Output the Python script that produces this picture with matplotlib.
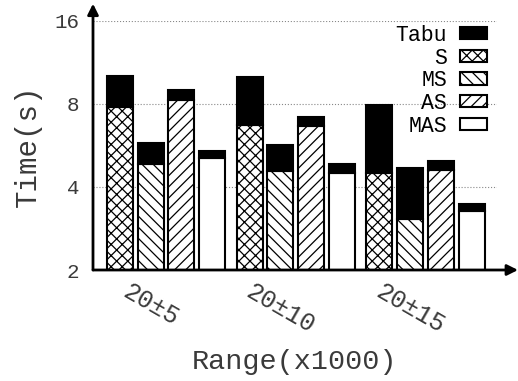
import numpy as np
import matplotlib
matplotlib.use("Agg")
import matplotlib.pyplot as plt

plt.rcParams['font.family'] = ['Liberation Mono', 'DejaVu Sans Mono']
plt.rcParams['hatch.linewidth'] = 0.9

# data (seconds, log2 axis)
groups = ["20±5", "20±10", "20±15"]
methods = ["S", "MS", "AS", "MAS"]
hatches = ["xxx", "\\\\\\", "///", ""]
# time of each method alone
base_S = [7.76, 6.69, 4.49]
base_MS = [4.84, 4.56, 3.05]
base_AS = [8.29, 6.65, 4.60]
base_MAS = [5.08, 4.49, 3.28]
# total time including Tabu
total_S = [10.07, 9.98, 7.89]
total_MS = [5.78, 5.65, 4.69]
total_AS = [8.98, 7.19, 4.97]
total_MAS = [5.40, 4.85, 3.47]

bases = [base_S, base_MS, base_AS, base_MAS]
totals = [total_S, total_MS, total_AS, total_MAS]

txt = '#3a3a3a'

fig = plt.figure(figsize=(5.18, 3.81), dpi=100)
ax = fig.add_axes([93/518, 1-270/381, 404/518, 249.3/381])

width = 0.84
gstep = 4.2
for j in range(4):
    x = np.arange(3)*gstep + j
    b = np.array(bases[j])
    t = np.array(totals[j])
    ax.bar(x, b, width=width, color='white', edgecolor='black',
           hatch=hatches[j], linewidth=1.5, zorder=3, label=methods[j])
    ax.bar(x, t - b, bottom=b, width=width, color='black', edgecolor='black',
           linewidth=1.5, zorder=3, label='Tabu' if j == 0 else None)

ax.set_yscale('log', base=2)
ax.set_ylim(2, 16)
ax.set_xlim(-0.86, 12.2)
ax.set_yticks([2, 4, 8, 16])
ax.set_yticklabels(['2', '4', '8', '16'])
ax.minorticks_off()
ax.yaxis.grid(True, linestyle=':', color='#888888', linewidth=0.8, zorder=0)
ax.tick_params(length=0, labelsize=15, colors=txt, pad=10)

ax.set_xticks(np.arange(3)*gstep + 1.0)
ax.set_xticklabels(groups, rotation=-30, ha='center', fontsize=18)
ax.tick_params(axis='x', pad=7)

for s in ax.spines.values():
    s.set_visible(False)
ax.annotate('', xy=(1 + 21/404, 0), xytext=(0, 0), xycoords='axes fraction',
            arrowprops=dict(arrowstyle='-|>', lw=2, color='black', mutation_scale=16,
                            shrinkA=0, shrinkB=0), annotation_clip=False)
ax.annotate('', xy=(0, 1 + 17/249.3), xytext=(0, 0), xycoords='axes fraction',
            arrowprops=dict(arrowstyle='-|>', lw=2, color='black', mutation_scale=16,
                            shrinkA=0, shrinkB=0), annotation_clip=False)

ax.set_ylabel('Time(s)', fontsize=21, color=txt, labelpad=9)
ax.set_xlabel('Range(x1000)', fontsize=20.5, color=txt, labelpad=8)

h, l = ax.get_legend_handles_labels()
order = [l.index(k) for k in ['Tabu', 'S', 'MS', 'AS', 'MAS']]
ax.legend([h[i] for i in order], [l[i] for i in order], loc='upper right',
          bbox_to_anchor=(0.996, 1.018), frameon=False, markerfirst=False,
          fontsize=15.5, handlelength=1.25, handleheight=0.5, labelspacing=0.08,
          handletextpad=0.6, borderaxespad=0)

fig.savefig('out.png', dpi=100)
